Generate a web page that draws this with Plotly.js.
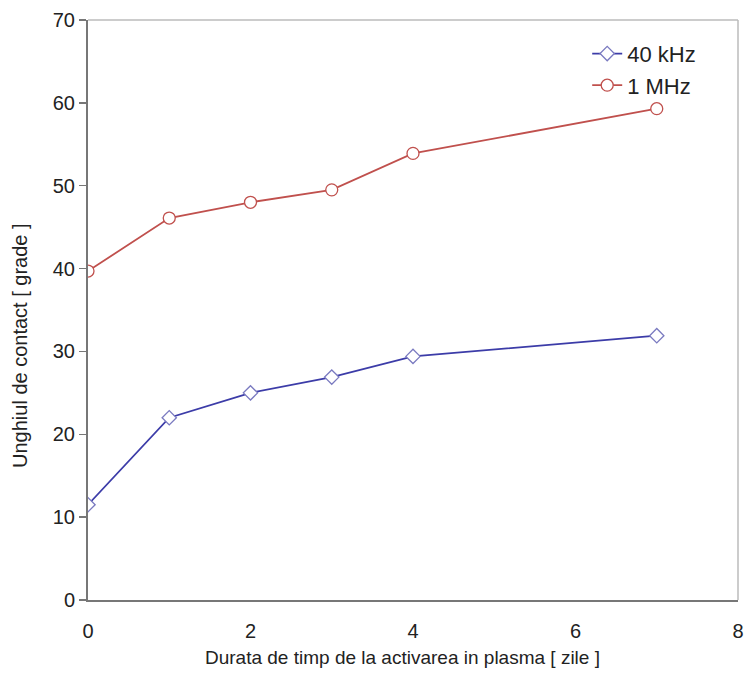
<!DOCTYPE html>
<html><head><meta charset="utf-8">
<script src="https://cdn.plot.ly/plotly-3.0.1.min.js"></script>
<style>html,body{margin:0;padding:0;background:#fff}#c{width:745px;height:677px}</style>
</head><body><div id="c"></div>
<script>
const days = [0, 1, 2, 3, 4, 7];
const kHz40 = [11.5, 22.0, 25.0, 26.9, 29.4, 31.9];
const MHz1 = [39.7, 46.1, 48.0, 49.5, 53.9, 59.3];
const seriesNames = ['40 kHz', '1 MHz'];
const xTicks = [0, 2, 4, 6, 8];
const yTicks = [0, 10, 20, 30, 40, 50, 60, 70];
const xTitle = 'Durata de timp de la activarea in plasma [ zile ]';
const yTitle = 'Unghiul de contact [ grade ]';

const traces = [
  {x: days, y: kHz40, name: seriesNames[0], mode: 'lines+markers', type: 'scatter',
   line: {color: '#3c3ca8', width: 1.8},
   marker: {symbol: 'diamond', size: 11, color: '#ffffff', line: {color: '#7a7ac0', width: 1.3}}},
  {x: days, y: MHz1, name: seriesNames[1], mode: 'lines+markers', type: 'scatter',
   line: {color: '#c0504d', width: 1.8},
   marker: {symbol: 'circle', size: 12, color: '#ffffff', line: {color: '#c0504d', width: 1.3}}}
];

const layout = {
  width: 745, height: 677,
  margin: {l: 88, r: 7, t: 20, b: 77},
  paper_bgcolor: '#ffffff', plot_bgcolor: '#ffffff',
  font: {family: 'Liberation Sans, Arial, sans-serif', color: '#222'},
  showlegend: true,
  legend: {x: 0.768, y: 0.978, xanchor: 'left', yanchor: 'top', bgcolor: 'rgba(0,0,0,0)',
           font: {size: 22, color: '#222'}, itemwidth: 30, tracegroupgap: 2},
  xaxis: {range: [0, 8], tickvals: xTicks, ticks: 'outside', ticklen: 12, tickcolor: 'rgba(0,0,0,0)',
          showgrid: false, zeroline: false,
          showline: true, linecolor: '#777', linewidth: 2,
          tickfont: {size: 20, color: '#222'}},
  yaxis: {range: [0, 70], tickvals: yTicks, ticks: 'outside', ticklen: 7, tickcolor: '#777', tickwidth: 1.5,
          showgrid: false, zeroline: false, showline: true, linecolor: '#777', linewidth: 2,
          tickfont: {size: 20, color: '#222'}},
  annotations: [
    {text: xTitle, xref: 'paper', yref: 'paper', x: (402 - 88) / 650, y: 0, yshift: -57,
     xanchor: 'center', yanchor: 'middle', showarrow: false, font: {size: 19, color: '#222'}},
    {text: yTitle, xref: 'paper', yref: 'paper', x: 0, xshift: -68, y: (600 - 346) / 580,
     xanchor: 'center', yanchor: 'middle', textangle: -90, showarrow: false, font: {size: 20, color: '#222'}}
  ],
  shapes: [
    {type: 'line', xref: 'paper', yref: 'paper', x0: 0, x1: 1, y0: 1, y1: 1, line: {color: '#bbb', width: 1.5}},
    {type: 'line', xref: 'paper', yref: 'paper', x0: 1, x1: 1, y0: 0, y1: 1, line: {color: '#bbb', width: 1.5}}
  ]
};
Plotly.newPlot('c', traces, layout, {displayModeBar: false, staticPlot: true});
</script>
</body></html>
